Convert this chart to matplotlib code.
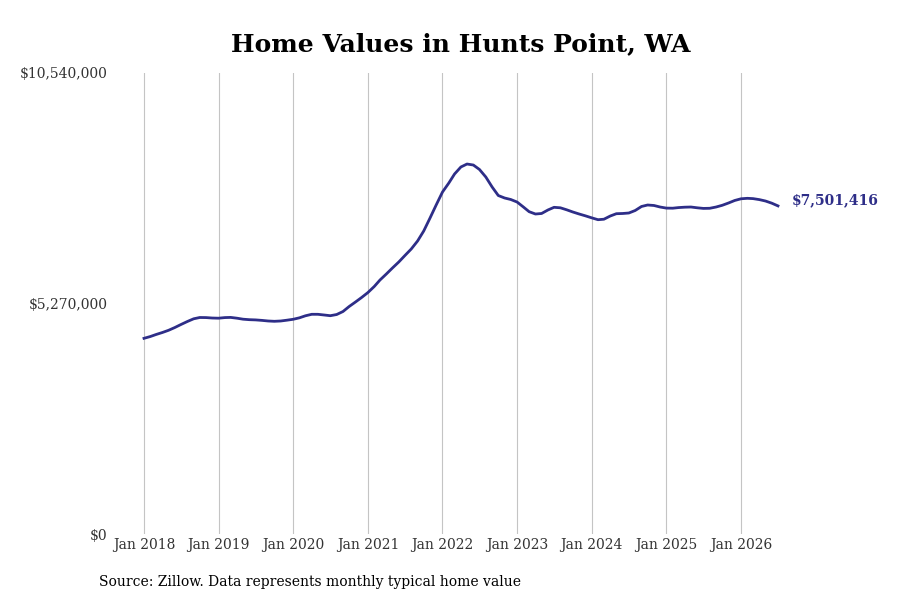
import matplotlib
matplotlib.use("Agg")
import matplotlib.pyplot as plt
import pandas as pd

# monthly typical home value, Jan 2018 .. Jul 2026 (in $)
values = [
    4474000, 4515000, 4561000, 4607000, 4657000, 4721000, 4790000, 4858000, 4920000, 4950000, 4948000, 4938000,
    4934000, 4948000, 4952000, 4934000, 4911000, 4900000, 4895000, 4884000, 4870000, 4863000, 4870000, 4888000,
    4909000, 4943000, 4989000, 5023000, 5023000, 5007000, 4991000, 5018000, 5087000, 5201000, 5304000, 5407000,
    5521000, 5659000, 5807000, 5944000, 6082000, 6219000, 6367000, 6516000, 6699000, 6927000, 7225000, 7522000,
    7819000, 8025000, 8231000, 8391000, 8459000, 8436000, 8334000, 8162000, 7933000, 7739000, 7682000, 7648000,
    7590000, 7476000, 7369000, 7316000, 7328000, 7408000, 7469000, 7458000, 7412000, 7362000, 7316000, 7275000,
    7229000, 7186000, 7197000, 7270000, 7323000, 7328000, 7339000, 7396000, 7488000, 7522000, 7511000, 7476000,
    7451000, 7449000, 7463000, 7472000, 7476000, 7458000, 7444000, 7447000, 7476000, 7515000, 7568000, 7625000,
    7664000, 7675000, 7668000, 7645000, 7613000, 7563000, 7501416,
]
dates = pd.date_range("2018-01-01", periods=len(values), freq="MS")

y_ticks = [0, 5270000, 10540000]
y_labels = ["$0", "$5,270,000", "$10,540,000"]
x_ticks = pd.date_range("2018-01-01", "2026-01-01", freq="YS")
x_labels = [d.strftime("Jan %Y") for d in x_ticks]

line_color = "#2e2e88"

plt.rcParams["font.family"] = "DejaVu Serif"

fig = plt.figure(figsize=(9, 6), dpi=100)
ax = fig.add_axes([112 / 900, 1 - 534 / 600, (810 - 112) / 900, (534 - 73) / 600])

ax.plot(dates, values, color=line_color, lw=2)

ax.set_ylim(0, 10540000)
ax.set_yticks(y_ticks)
ax.set_yticklabels(y_labels, fontsize=10, color="#333333")
ax.set_xticks(x_ticks)
ax.set_xticklabels(x_labels, fontsize=10, color="#333333")

# Jan 2018 sits at 144px, Jan 2026 at 741px
px_per_day = (741 - 144) / (x_ticks[-1] - x_ticks[0]).days
left = x_ticks[0] - pd.Timedelta(days=(144 - 112) / px_per_day)
right = x_ticks[0] + pd.Timedelta(days=(810 - 144) / px_per_day)
ax.set_xlim(left, right)

ax.grid(axis="x", color="#c4c4c4", lw=0.8)
ax.tick_params(axis="y", length=0, pad=3)
ax.tick_params(axis="x", length=0, pad=3)
for s in ax.spines.values():
    s.set_visible(False)

ax.annotate("${:,}".format(values[-1]), (dates[-1], values[-1]), xytext=(10, 4),
            textcoords="offset points", color=line_color, fontsize=10,
            fontweight="bold", va="center", ha="left")

fig.text(461 / 900, 1 - 44 / 600, "Home Values in Hunts Point, WA", ha="center",
         va="center", fontsize=18, fontweight="bold")
fig.text(99 / 900, 1 - 582 / 600, "Source: Zillow. Data represents monthly typical home value",
         ha="left", va="center", fontsize=10)

fig.savefig("out.png", dpi=100)
